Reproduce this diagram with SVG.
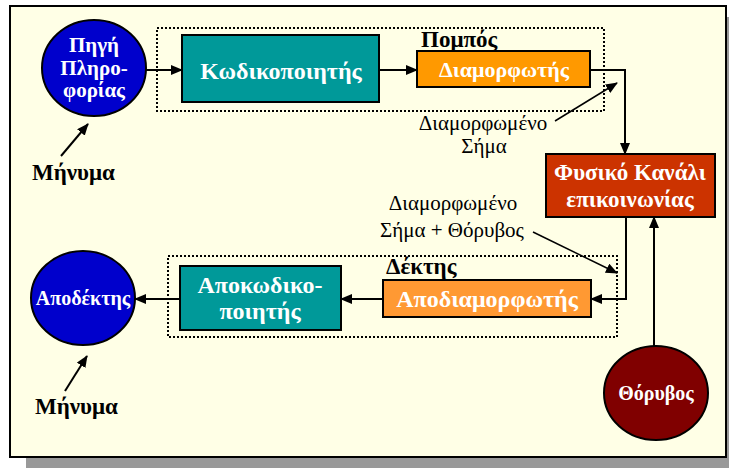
<svg xmlns="http://www.w3.org/2000/svg" width="729" height="468" viewBox="0 0 729 468">
<defs>
<marker id="ah" markerUnits="userSpaceOnUse" markerWidth="12" markerHeight="10" refX="11" refY="5" orient="auto">
<path d="M0,0 L12,5 L0,10 Z" fill="#000"/>
</marker>
</defs>
<style>
.bt{font-family:"Liberation Serif","Times New Roman",serif;font-weight:bold;fill:#fff;text-anchor:middle}
.lb{font-family:"Liberation Serif","Times New Roman",serif;font-weight:bold;fill:#000}
.rt{font-family:"Liberation Serif","Times New Roman",serif;fill:#000;text-anchor:middle;font-size:21px}
.box{stroke:#000;stroke-width:2}
.dot{fill:none;stroke:#000;stroke-width:2;stroke-dasharray:2,2}
.ln{fill:none;stroke:#000;stroke-width:2}
.ln1{fill:none;stroke:#000;stroke-width:1.5}
</style>
<rect x="26" y="17" width="716" height="451" fill="#999999"/>
<rect x="10" y="6" width="716" height="451" fill="#FFFFE6" stroke="#000" stroke-width="2"/>
<rect class="dot" x="157" y="28" width="447" height="83"/>
<rect class="dot" x="168" y="256" width="449" height="81"/>
<g id="source">
<ellipse cx="94" cy="68" rx="52" ry="48" fill="#0000CC" stroke="#000" stroke-width="2"/>
<text class="bt" font-size="21" x="94" y="52">Πηγή</text>
<text class="bt" font-size="21" x="94" y="75">Πληρο-</text>
<text class="bt" font-size="21" x="94" y="97">φορίας</text>
</g>
<g id="encoder">
<rect class="box" x="182" y="35" width="197" height="67" fill="#009999"/>
<text class="bt" font-size="24" x="281" y="79">Κωδικοποιητής</text>
</g>
<g id="transmitter-label"><text class="lb" font-size="23" x="421" y="47">Πομπός</text></g>
<g id="modulator">
<rect class="box" x="417" y="51" width="173" height="36" fill="#FF9900"/>
<text class="bt" font-size="22" x="504" y="77">Διαμορφωτής</text>
</g>
<g id="channel">
<rect class="box" x="546" y="154" width="169" height="63" fill="#CC3300"/>
<text class="bt" font-size="23" x="630" y="180">Φυσικό Κανάλι</text>
<text class="bt" font-size="23" x="630" y="207">επικοινωνίας</text>
</g>
<g id="receiver-label"><text class="lb" font-size="23" x="386" y="274">Δέκτης</text></g>
<g id="demodulator">
<rect class="box" x="383" y="280" width="208" height="37" fill="#FF9933"/>
<text class="bt" font-size="24" x="487" y="307">Αποδιαμορφωτής</text>
</g>
<g id="decoder">
<rect class="box" x="180" y="266" width="161" height="64" fill="#009999"/>
<text class="bt" font-size="24" x="260" y="293">Αποκωδικο-</text>
<text class="bt" font-size="24" x="260" y="319">ποιητής</text>
</g>
<g id="destination">
<ellipse cx="83" cy="298" rx="52" ry="47" fill="#0000CC" stroke="#000" stroke-width="2"/>
<text class="bt" font-size="20" x="83" y="305">Αποδέκτης</text>
</g>
<g id="noise">
<ellipse cx="656" cy="393" rx="52" ry="47" fill="#800000" stroke="#000" stroke-width="2"/>
<text class="bt" font-size="20" x="656" y="400">Θόρυβος</text>
</g>
<g id="msg1"><text class="lb" font-size="23" x="32" y="180">Μήνυμα</text></g>
<g id="msg2"><text class="lb" font-size="23" x="35" y="414">Μήνυμα</text></g>
<g id="label-modsig">
<text class="rt" x="483" y="130">Διαμορφωμένο</text>
<text class="rt" x="484" y="153">Σήμα</text>
</g>
<g id="label-modnoise">
<text class="rt" x="453" y="210">Διαμορφωμένο</text>
<text class="rt" x="452" y="237">Σήμα + Θόρυβος</text>
</g>
<g id="connectors">
<line class="ln" x1="146" y1="70" x2="182" y2="70" marker-end="url(#ah)"/>
<line class="ln" x1="379" y1="70" x2="417" y2="70" marker-end="url(#ah)"/>
<polyline class="ln" points="590,70 625,70 625,154" marker-end="url(#ah)"/>
<line class="ln1" x1="555" y1="121" x2="617" y2="83" marker-end="url(#ah)"/>
<polyline class="ln" points="626,217 626,299 591,299" marker-end="url(#ah)"/>
<line class="ln" x1="654" y1="346" x2="654" y2="217" marker-end="url(#ah)"/>
<line class="ln1" x1="533" y1="232" x2="617" y2="273" marker-end="url(#ah)"/>
<line class="ln" x1="383" y1="299" x2="341" y2="299" marker-end="url(#ah)"/>
<line class="ln" x1="180" y1="299" x2="135" y2="299" marker-end="url(#ah)"/>
<line class="ln" x1="61" y1="156" x2="88" y2="124" marker-end="url(#ah)"/>
<line class="ln" x1="65" y1="391" x2="87" y2="356" marker-end="url(#ah)"/>
</g>
</svg>
